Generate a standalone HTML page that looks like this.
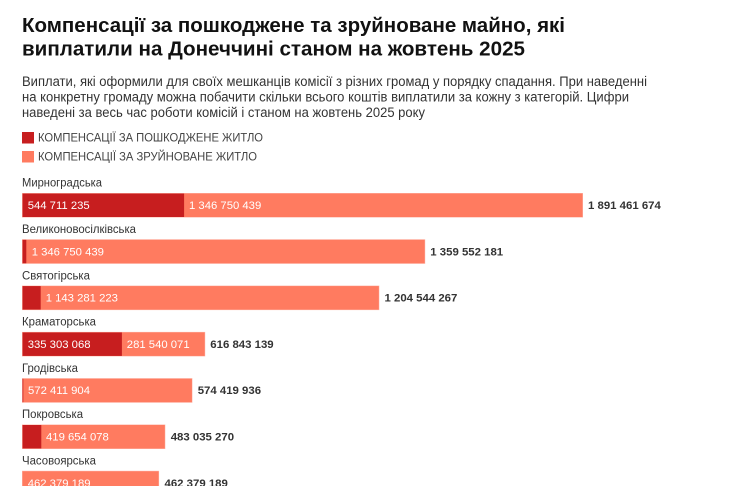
<!DOCTYPE html>
<html>
<head>
<meta charset="utf-8">
<style>
  html,body{margin:0;padding:0;background:#fff;}
  svg{display:block;}
  text{font-family:"Liberation Sans", "Noto Sans CJK SC", sans-serif;}
</style>
</head>
<body>
<svg width="741" height="486" viewBox="0 0 741 486" xmlns="http://www.w3.org/2000/svg">
  <rect x="0" y="0" width="741" height="486" fill="#fff"/>
  <!-- Title -->
  <text x="22" y="32" font-size="20" font-weight="bold" fill="#111" textLength="543" lengthAdjust="spacingAndGlyphs">Компенсації за пошкоджене та зруйноване майно, які</text>
  <text x="22" y="55.5" font-size="20" font-weight="bold" fill="#111" textLength="503" lengthAdjust="spacingAndGlyphs">виплатили на Донеччині станом на жовтень 2025</text>
  <!-- Subtitle -->
  <text x="22" y="86" font-size="13.5" fill="#333" textLength="625" lengthAdjust="spacingAndGlyphs">Виплати, які оформили для своїх мешканців комісії з різних громад у порядку спадання. При наведенні</text>
  <text x="22" y="101.5" font-size="13.5" fill="#333" textLength="607" lengthAdjust="spacingAndGlyphs">на конкретну громаду можна побачити скільки всього коштів виплатили за кожну з категорій. Цифри</text>
  <text x="22" y="117" font-size="13.5" fill="#333" textLength="403" lengthAdjust="spacingAndGlyphs">наведені за весь час роботи комісій і станом на жовтень 2025 року</text>
  <!-- Legend -->
  <rect x="22" y="132" width="12" height="11.5" fill="#c71e1f"/>
  <text x="38" y="141.7" font-size="12" fill="#444" textLength="225" lengthAdjust="spacingAndGlyphs">КОМПЕНСАЦІЇ ЗА ПОШКОДЖЕНЕ ЖИТЛО</text>
  <rect x="22" y="151" width="12" height="11.5" fill="#ff7b60"/>
  <text x="38" y="160.5" font-size="12" fill="#444" textLength="219" lengthAdjust="spacingAndGlyphs">КОМПЕНСАЦІЇ ЗА ЗРУЙНОВАНЕ ЖИТЛО</text>

  <!-- Row 1 -->
  <text x="22" y="186.7" font-size="11.5" fill="#333" textLength="80" lengthAdjust="spacingAndGlyphs">Мирноградська</text>
  <rect x="22" y="193" width="561" height="24.5" fill="#ff7b60" stroke="#fff" stroke-opacity="0.45" stroke-width="1"/>
  <rect x="22.5" y="193.5" width="161.6" height="23.5" fill="#c71e1f"/>
  <text x="27.7" y="209" font-size="11.3" fill="#fff">544 711 235</text>
  <text x="189" y="209" font-size="11.3" fill="#fff">1 346 750 439</text>
  <text x="588" y="209" font-size="11.4" font-weight="bold" fill="#333">1 891 461 674</text>

  <!-- Row 2 -->
  <text x="22" y="233" font-size="11.5" fill="#333" textLength="114" lengthAdjust="spacingAndGlyphs">Великоновосілківська</text>
  <rect x="22" y="239.3" width="403.2" height="24.5" fill="#ff7b60" stroke="#fff" stroke-opacity="0.45" stroke-width="1"/>
  <rect x="22.5" y="239.8" width="3.8" height="23.5" fill="#c71e1f"/>
  <text x="31.7" y="255.3" font-size="11.3" fill="#fff">1 346 750 439</text>
  <text x="430.3" y="255.3" font-size="11.4" font-weight="bold" fill="#333">1 359 552 181</text>

  <!-- Row 3 -->
  <text x="22" y="279.3" font-size="11.5" fill="#333" textLength="68" lengthAdjust="spacingAndGlyphs">Святогірська</text>
  <rect x="22" y="285.6" width="357.3" height="24.5" fill="#ff7b60" stroke="#fff" stroke-opacity="0.45" stroke-width="1"/>
  <rect x="22.5" y="286.1" width="18.2" height="23.5" fill="#c71e1f"/>
  <text x="45.7" y="301.6" font-size="11.3" fill="#fff">1 143 281 223</text>
  <text x="384.5" y="301.6" font-size="11.4" font-weight="bold" fill="#333">1 204 544 267</text>

  <!-- Row 4 -->
  <text x="22" y="325.6" font-size="11.5" fill="#333" textLength="74" lengthAdjust="spacingAndGlyphs">Краматорська</text>
  <rect x="22" y="331.9" width="183.2" height="24.5" fill="#ff7b60" stroke="#fff" stroke-opacity="0.45" stroke-width="1"/>
  <rect x="22.5" y="332.4" width="99.4" height="23.5" fill="#c71e1f"/>
  <text x="27.7" y="347.9" font-size="11.3" fill="#fff">335 303 068</text>
  <text x="126.8" y="347.9" font-size="11.3" fill="#fff">281 540 071</text>
  <text x="210.3" y="347.9" font-size="11.4" font-weight="bold" fill="#333">616 843 139</text>

  <!-- Row 5 -->
  <text x="22" y="371.9" font-size="11.5" fill="#333" textLength="56" lengthAdjust="spacingAndGlyphs">Гродівська</text>
  <rect x="22" y="378.2" width="170.4" height="24.5" fill="#ff7b60" stroke="#fff" stroke-opacity="0.45" stroke-width="1"/>
  <rect x="22.5" y="378.7" width="0.8" height="23.5" fill="#c71e1f"/>
  <text x="28" y="394.2" font-size="11.3" fill="#fff">572 411 904</text>
  <text x="197.7" y="394.2" font-size="11.4" font-weight="bold" fill="#333">574 419 936</text>

  <!-- Row 6 -->
  <text x="22" y="418.2" font-size="11.5" fill="#333" textLength="61" lengthAdjust="spacingAndGlyphs">Покровська</text>
  <rect x="22" y="424.5" width="143.3" height="24.5" fill="#ff7b60" stroke="#fff" stroke-opacity="0.45" stroke-width="1"/>
  <rect x="22.5" y="425" width="18.8" height="23.5" fill="#c71e1f"/>
  <text x="46" y="440.5" font-size="11.3" fill="#fff">419 654 078</text>
  <text x="170.7" y="440.5" font-size="11.4" font-weight="bold" fill="#333">483 035 270</text>

  <!-- Row 7 -->
  <text x="22" y="464.5" font-size="11.5" fill="#333" textLength="74" lengthAdjust="spacingAndGlyphs">Часовоярська</text>
  <rect x="22" y="470.8" width="137.1" height="24.5" fill="#ff7b60" stroke="#fff" stroke-opacity="0.45" stroke-width="1"/>
  <text x="27.7" y="486.8" font-size="11.3" fill="#fff">462 379 189</text>
  <text x="164.5" y="486.8" font-size="11.4" font-weight="bold" fill="#333">462 379 189</text>
</svg>
</body>
</html>
